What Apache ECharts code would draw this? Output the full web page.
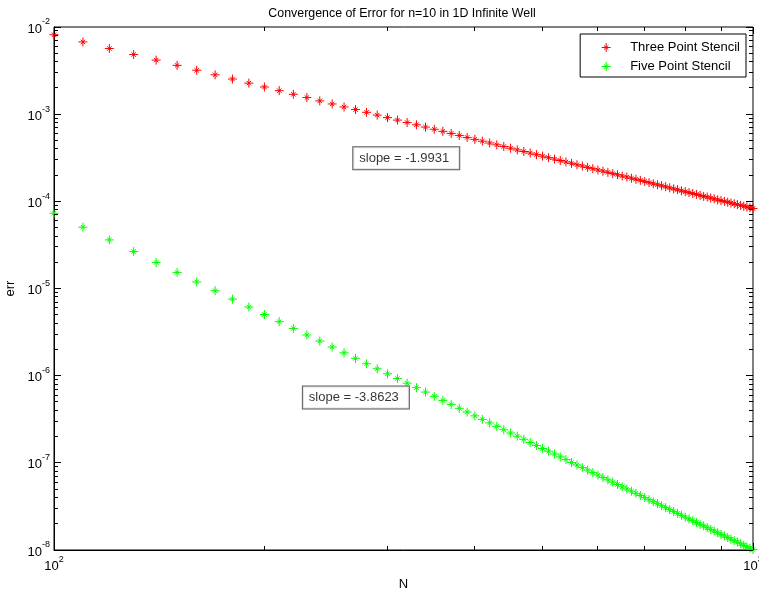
<!DOCTYPE html>
<html>
<head>
<meta charset="utf-8">
<title>Convergence of Error</title>
<script src="https://cdn.jsdelivr.net/npm/echarts@6/dist/echarts.min.js"></script>
<style>
  html, body { margin: 0; padding: 0; background: #fff; }
  #chart { width: 759px; height: 592px; }
</style>
</head>
<body>
<div id="chart"></div>
<script>
// Grid size N (number of points)
const N = [
  100, 110, 120, 130, 140, 150, 160, 170, 180, 190,
  200, 210, 220, 230, 240, 250, 260, 270, 280, 290,
  300, 310, 320, 330, 340, 350, 360, 370, 380, 390,
  400, 410, 420, 430, 440, 450, 460, 470, 480, 490,
  500, 510, 520, 530, 540, 550, 560, 570, 580, 590,
  600, 610, 620, 630, 640, 650, 660, 670, 680, 690,
  700, 710, 720, 730, 740, 750, 760, 770, 780, 790,
  800, 810, 820, 830, 840, 850, 860, 870, 880, 890,
  900, 910, 920, 930, 940, 950, 960, 970, 980, 990,
  1000
];

// Energy error of the n=10 state, three point finite difference stencil
const errThreePoint = [
  8.15e-3, 6.74e-3, 5.67e-3, 4.83e-3, 4.17e-3, 3.63e-3, 3.19e-3, 2.83e-3, 2.53e-3, 2.27e-3,
  2.05e-3, 1.86e-3, 1.69e-3, 1.55e-3, 1.42e-3, 1.31e-3, 1.21e-3, 1.13e-3, 1.05e-3, 9.76e-4,
  9.13e-4, 8.55e-4, 8.02e-4, 7.55e-4, 7.11e-4, 6.71e-4, 6.35e-4, 6.01e-4, 5.70e-4, 5.41e-4,
  5.14e-4, 4.90e-4, 4.67e-4, 4.45e-4, 4.25e-4, 4.07e-4, 3.89e-4, 3.73e-4, 3.58e-4, 3.43e-4,
  3.30e-4, 3.17e-4, 3.05e-4, 2.94e-4, 2.83e-4, 2.73e-4, 2.63e-4, 2.54e-4, 2.45e-4, 2.37e-4,
  2.29e-4, 2.22e-4, 2.15e-4, 2.08e-4, 2.02e-4, 1.95e-4, 1.90e-4, 1.84e-4, 1.79e-4, 1.74e-4,
  1.69e-4, 1.64e-4, 1.59e-4, 1.55e-4, 1.51e-4, 1.47e-4, 1.43e-4, 1.39e-4, 1.36e-4, 1.32e-4,
  1.29e-4, 1.26e-4, 1.23e-4, 1.20e-4, 1.17e-4, 1.14e-4, 1.12e-4, 1.09e-4, 1.07e-4, 1.04e-4,
  1.02e-4, 9.99e-5, 9.78e-5, 9.57e-5, 9.37e-5, 9.17e-5, 8.98e-5, 8.80e-5, 8.62e-5, 8.45e-5,
  8.28e-5
];

// Energy error of the n=10 state, five point finite difference stencil
const errFivePoint = [
  7.30e-5, 5.05e-5, 3.61e-5, 2.65e-5, 1.99e-5, 1.53e-5, 1.19e-5, 9.42e-6, 7.55e-6, 6.13e-6,
  5.03e-6, 4.16e-6, 3.48e-6, 2.93e-6, 2.49e-6, 2.13e-6, 1.83e-6, 1.58e-6, 1.37e-6, 1.20e-6,
  1.05e-6, 9.26e-7, 8.20e-7, 7.28e-7, 6.48e-7, 5.80e-7, 5.20e-7, 4.68e-7, 4.22e-7, 3.82e-7,
  3.46e-7, 3.15e-7, 2.87e-7, 2.62e-7, 2.40e-7, 2.20e-7, 2.02e-7, 1.86e-7, 1.71e-7, 1.58e-7,
  1.46e-7, 1.36e-7, 1.26e-7, 1.17e-7, 1.09e-7, 1.01e-7, 9.45e-8, 8.82e-8, 8.25e-8, 7.72e-8,
  7.24e-8, 6.79e-8, 6.38e-8, 6.00e-8, 5.64e-8, 5.31e-8, 5.01e-8, 4.73e-8, 4.47e-8, 4.22e-8,
  3.99e-8, 3.78e-8, 3.58e-8, 3.40e-8, 3.22e-8, 3.06e-8, 2.91e-8, 2.76e-8, 2.63e-8, 2.50e-8,
  2.38e-8, 2.27e-8, 2.17e-8, 2.07e-8, 1.97e-8, 1.89e-8, 1.80e-8, 1.72e-8, 1.65e-8, 1.58e-8,
  1.51e-8, 1.45e-8, 1.39e-8, 1.33e-8, 1.28e-8, 1.23e-8, 1.18e-8, 1.13e-8, 1.09e-8, 1.05e-8,
  1.01e-8
];

const seriesNames = ['Three Point Stencil', 'Five Point Stencil'];

// Fitted slopes and where their text boxes sit (data coordinates of the box's left middle)
const slopeLabels = ['slope = -1.9931', 'slope = -3.8623'];
const slopeAnchors = [[268, 3.13e-4], [227, 5.6e-7]];

// Axis ranges and tick values
const xRange = [100, 1000];
const yRange = [1e-8, 1e-2];
const xMajorTicks = [100, 1000];
const xMinorTicks = [200, 300, 400, 500, 600, 700, 800, 900];
const yMajorTicks = [1e-8, 1e-7, 1e-6, 1e-5, 1e-4, 1e-3, 1e-2];
const yMinorMultipliers = [2, 3, 4, 5, 6, 7, 8, 9];

const FONT = "'Liberation Sans', Arial, Helvetica, sans-serif";
const MAJOR_LEN = 7;
const MINOR_LEN = 4;

// asterisk marker: plus sign with a short cross through its centre
const ASTERISK = 'path://M0,-4.5L0,4.5M-4.5,0L4.5,0M-2.2,-2.2L2.2,2.2M-2.2,2.2L2.2,-2.2';

const yMinorTicks = [];
yMajorTicks.slice(0, -1).forEach(function (dec) {
  yMinorMultipliers.forEach(function (m) { yMinorTicks.push(dec * m); });
});

const xTickData = xMajorTicks.map(function (v) { return [v, yRange[0], MAJOR_LEN]; })
  .concat(xMinorTicks.map(function (v) { return [v, yRange[0], MINOR_LEN]; }));
const yTickData = yMajorTicks.map(function (v) { return [xRange[0], v, MAJOR_LEN]; })
  .concat(yMinorTicks.map(function (v) { return [xRange[0], v, MINOR_LEN]; }));

function crisp(v) { return Math.round(v - 0.5) + 0.5; }

function tickLine(x1, y1, x2, y2) {
  return { type: 'line', shape: { x1: x1, y1: y1, x2: x2, y2: y2 },
           style: { stroke: '#000', lineWidth: 1 } };
}

function powerLabel(value) {
  const e = Math.round(Math.log10(value));
  return '{b|10}{s|' + e + '}';
}

const powerRich = {
  b: { fontSize: 13, fontFamily: FONT, color: '#000', padding: [5, 0, 0, 0], verticalAlign: 'bottom' },
  s: { fontSize: 9, fontFamily: FONT, color: '#000', verticalAlign: 'top' }
};

const chart = echarts.init(document.getElementById('chart'), null, { renderer: 'canvas' });

const stencilStyle = function (color) {
  return {
    type: 'scatter',
    symbol: ASTERISK,
    symbolSize: 9,
    symbolKeepAspect: true,
    clip: false,
    itemStyle: { color: color, borderColor: color, borderWidth: 1, opacity: 1 },
    emphasis: { disabled: true },
    z: 3
  };
};

chart.setOption({
  animation: false,
  backgroundColor: '#fff',
  textStyle: { fontFamily: FONT },
  grid: {
    left: 54, right: 6, top: 27, bottom: 42,
    show: true, borderColor: '#000', borderWidth: 1, backgroundColor: '#fff',
    containLabel: false, outerBoundsMode: 'none'
  },
  graphic: [{
    type: 'text', x: 402, y: 14,
    style: {
      text: 'Convergence of Error for n=10 in 1D Infinite Well',
      font: '12.4px ' + FONT, fill: '#000', align: 'center', verticalAlign: 'middle'
    }
  }],
  legend: {
    data: seriesNames,
    orient: 'vertical',
    right: 13, top: 34,
    backgroundColor: '#fff', borderColor: '#000', borderWidth: 1, borderRadius: 0,
    padding: [6, 6, 3, 21],
    itemWidth: 38, itemHeight: 9, itemGap: 4,
    symbolKeepAspect: true,
    selectedMode: false,
    itemStyle: { borderWidth: 1 },
    textStyle: { fontSize: 13, color: '#000', fontFamily: FONT, lineHeight: 15 }
  },
  xAxis: {
    type: 'log', logBase: 10, min: xRange[0], max: xRange[1],
    name: 'N', nameLocation: 'middle', nameGap: 26,
    nameTextStyle: { fontSize: 13, color: '#000', fontFamily: FONT },
    axisLine: { show: true, lineStyle: { color: '#000', width: 1 } },
    axisTick: { show: false },
    splitLine: { show: false },
    minorTick: { show: false },
    axisLabel: { show: true, margin: 5, formatter: powerLabel, rich: powerRich,
                 showMinLabel: true, showMaxLabel: true, hideOverlap: false }
  },
  yAxis: {
    type: 'log', logBase: 10, min: yRange[0], max: yRange[1],
    name: 'err', nameLocation: 'middle', nameGap: 31, nameRotate: 90,
    nameTextStyle: { fontSize: 13, color: '#000', fontFamily: FONT },
    axisLine: { show: true, lineStyle: { color: '#000', width: 1 } },
    axisTick: { show: false },
    splitLine: { show: false },
    minorTick: { show: false },
    axisLabel: { show: true, margin: 4, formatter: powerLabel, rich: powerRich,
                 padding: [0, 0, 1, 0], showMinLabel: true, showMaxLabel: true, hideOverlap: false }
  },
  series: [
    Object.assign(stencilStyle('#ff0000'), {
      name: seriesNames[0],
      data: N.map(function (n, i) { return [n, errThreePoint[i]]; })
    }),
    Object.assign(stencilStyle('#00ff00'), {
      name: seriesNames[1],
      data: N.map(function (n, i) { return [n, errFivePoint[i]]; })
    }),
    {
      // slope annotations
      type: 'scatter',
      symbolSize: 0,
      silent: true,
      clip: false,
      z: 5,
      data: slopeAnchors.map(function (p, i) {
        return { value: p, label: { formatter: slopeLabels[i] } };
      }),
      label: {
        show: true, position: 'right', distance: 0,
        fontSize: 13, fontFamily: FONT, color: '#000', lineHeight: 15,
        backgroundColor: '#fff', borderColor: '#333', borderWidth: 1,
        padding: [3, 10, 4, 6]
      }
    },
    {
      // x-axis ticks on bottom and top edges
      type: 'custom',
      silent: true,
      z: 4,
      clip: false,
      encode: { x: 0, y: 1 },
      data: xTickData,
      renderItem: function (params, api) {
        const v = api.value(0), len = api.value(2);
        const b = api.coord([v, yRange[0]]);
        const t = api.coord([v, yRange[1]]);
        const x = crisp(b[0]);
        return { type: 'group', children: [
          tickLine(x, b[1], x, b[1] - len),
          tickLine(x, t[1], x, t[1] + len)
        ] };
      }
    },
    {
      // y-axis ticks on left and right edges
      type: 'custom',
      silent: true,
      z: 4,
      clip: false,
      encode: { x: 0, y: 1 },
      data: yTickData,
      renderItem: function (params, api) {
        const v = api.value(1), len = api.value(2);
        const l = api.coord([xRange[0], v]);
        const r = api.coord([xRange[1], v]);
        const y = crisp(l[1]);
        return { type: 'group', children: [
          tickLine(l[0], y, l[0] + len, y),
          tickLine(r[0], y, r[0] - len, y)
        ] };
      }
    }
  ]
});
</script>
</body>
</html>
